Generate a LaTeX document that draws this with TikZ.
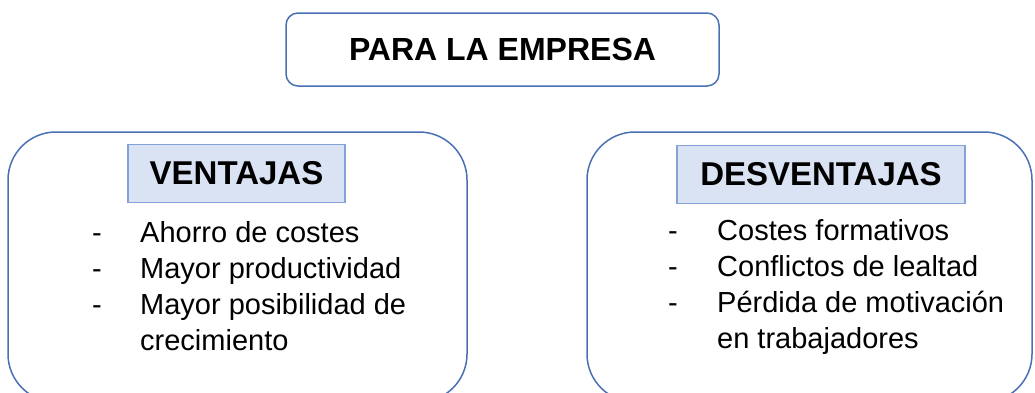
\documentclass[tikz,border=0pt]{standalone}
\usepackage{fontspec}
\setmainfont{Liberation Sans}
\usetikzlibrary{positioning}

\definecolor{frameblue}{RGB}{74,112,180}
\definecolor{headfill}{RGB}{218,227,243}
\definecolor{headline}{RGB}{132,162,216}

\tikzset{
  topbox/.style={draw=frameblue,line width=1.5pt,rounded corners=12pt,
    minimum width=433pt,minimum height=73pt,
    font=\fontsize{32}{38}\selectfont\bfseries},
  sidebox/.style={draw=frameblue,line width=1.5pt,rounded corners=48pt,
    minimum height=270pt},
  headbox/.style={draw=headline,fill=headfill,line width=1.5pt,
    minimum height=58pt,font=\fontsize{33}{39}\selectfont\bfseries},
  itemtext/.style={anchor=base west,inner sep=0pt,
    font=\fontsize{29}{35}\selectfont}
}

\begin{document}
\begin{tikzpicture}[x=1pt,y=-1pt]
  \useasboundingbox (0,0) rectangle (1035,392);

  \node[topbox] (empresa) at (502.5,49.5) {PARA LA EMPRESA};

  % left side
  \node[sidebox,minimum width=459pt] (ventbox) at (237.5,267) {};
  \node[headbox,minimum width=217pt] (vent) at (236.5,173.5) {VENTAJAS};
  \foreach \t [count=\i] in {Ahorro de costes,Mayor productividad,
      Mayor posibilidad de,crecimiento}
  { \node[itemtext] (v\i) at (140,{206+36*\i}) {\t}; }
  \foreach \i in {1,2,3}
  { \node[itemtext] (vd\i) at (92,{206+36*\i}) {-}; }

  % right side
  \node[sidebox,minimum width=445pt] (desvbox) at (809.5,267) {};
  \node[headbox,minimum width=288pt] (desv) at (821,174.5) {DESVENTAJAS};
  \foreach \t [count=\i] in {Costes formativos,Conflictos de lealtad,
      Pérdida de motivación,en trabajadores}
  { \node[itemtext] (d\i) at (717,{204+36*\i}) {\t}; }
  \foreach \i in {1,2,3}
  { \node[itemtext] (dd\i) at (668,{204+36*\i}) {-}; }
\end{tikzpicture}
\end{document}
